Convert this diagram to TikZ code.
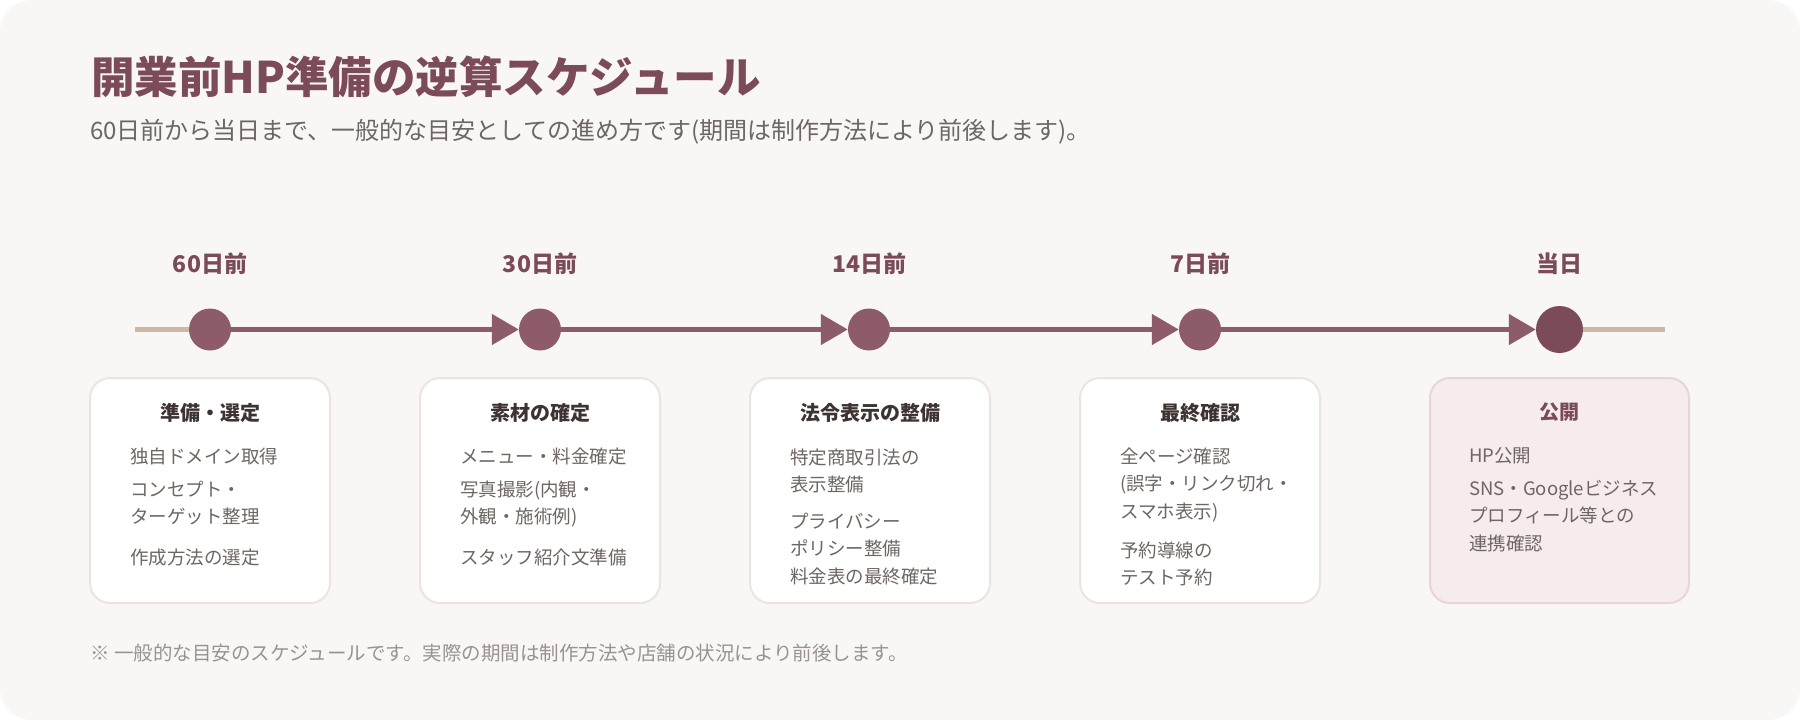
\documentclass[tikz,border=0pt]{standalone}
\usepackage{fontspec}
\setmainfont{Noto Sans CJK JP}
\usepackage{tikz}
\usetikzlibrary{arrows.meta}
\definecolor{mauve}{HTML}{8E5C68}
\definecolor{plum}{HTML}{7B4B59}
\definecolor{sand}{HTML}{CDB8A4}
\definecolor{paper}{HTML}{F8F7F5}
\definecolor{cardline}{HTML}{ECE4DE}
\definecolor{pinkfill}{HTML}{F6ECEE}
\definecolor{pinkline}{HTML}{E8D4D9}
\definecolor{ink}{HTML}{3D3431}
\definecolor{grayA}{HTML}{6E6662}
\definecolor{grayB}{HTML}{9B928E}

\begin{document}
\begin{tikzpicture}
[every node/.style={inner sep=0pt},
 dot/.style={circle, minimum size=42pt, fill=mauve},
 day/.style={font=\fontsize{23pt}{23pt}\selectfont\bfseries, text=plum},
 card/.style={rectangle, rounded corners=20pt, minimum width=240pt, minimum height=225pt, fill=white, draw=cardline, line width=2pt},
 cardhead/.style={font=\fontsize{20pt}{20pt}\selectfont\bfseries, text=ink},
 item/.style={anchor=base west, align=left, font=\fontsize{18.5pt}{27.5pt}\selectfont, text=grayA},
 seg/.style={line width=5pt, draw=mauve, -{Triangle[length=27pt, width=30pt]}},
 lead/.style={line width=5pt, draw=sand}]
\useasboundingbox (0pt, 0pt) rectangle (1800pt, -720pt);
\fill [white] (0pt, 0pt) rectangle (1800pt, -720pt);
\fill [paper, rounded corners=32pt] (0pt, 0pt) rectangle (1800pt, -720pt);
\node (title) [anchor=west, font=\fontsize{43.5pt}{43.5pt}\selectfont\bfseries, text=plum] at (91pt, -77pt) {開業前HP準備の逆算スケジュール};
\node (sub) [anchor=west, font=\fontsize{24pt}{24pt}\selectfont, text=grayA] at (90pt, -132pt) {60日前から当日まで、一般的な目安としての進め方です(期間は制作方法により前後します)。};
\node (1) [dot] at (210pt, -329.5pt) {};
\node (2) [dot] at (540pt, -329.5pt) {};
\node (3) [dot] at (869pt, -329.5pt) {};
\node (4) [dot] at (1200pt, -329.5pt) {};
\node (5) [dot, minimum size=47pt, fill=plum] at (1559.5pt, -329.5pt) {};
\coordinate (s) at (135pt, -329.5pt);
\coordinate (e) at (1665pt, -329.5pt);
\draw [lead] (s) to (1);
\draw [lead] (5) to (e);
\draw [seg] (1) to (2);
\draw [seg] (2) to (3);
\draw [seg] (3) to (4);
\draw [seg] (4) to (5);
\node (d1) [day] at (210pt, -264pt) {60日前};
\node (d2) [day] at (540pt, -264pt) {30日前};
\node (d3) [day] at (869pt, -264pt) {14日前};
\node (d4) [day] at (1200pt, -264pt) {7日前};
\node (d5) [day] at (1559.5pt, -264pt) {当日};
\node (c1) [card] at (210pt, -490.5pt) {};
\node (c2) [card] at (540pt, -490.5pt) {};
\node (c3) [card] at (870pt, -490.5pt) {};
\node (c4) [card] at (1200pt, -490.5pt) {};
\node (c5) [card, minimum width=259pt, fill=pinkfill, draw=pinkline] at (1559.5pt, -490.5pt) {};
\node (h1) [cardhead] at (210pt, -412.5pt) {準備・選定};
\node (h2) [cardhead] at (540pt, -412.5pt) {素材の確定};
\node (h3) [cardhead] at (870pt, -412.5pt) {法令表示の整備};
\node (h4) [cardhead] at (1200pt, -412.5pt) {最終確認};
\node (h5) [cardhead, text=plum] at (1559.5pt, -412.5pt) {公開};
% 60日前 (multi-line items sit on their last baseline)
\node (i11) [item] at (130pt, -463pt) {独自ドメイン取得};
\node (i12) [item] at (130pt, -523.5pt) {コンセプト・\\ターゲット整理};
\node (i13) [item] at (130pt, -564pt) {作成方法の選定};
% 30日前
\node (i21) [item] at (460pt, -463pt) {メニュー・料金確定};
\node (i22) [item] at (460pt, -523.5pt) {写真撮影(内観・\\外観・施術例)};
\node (i23) [item] at (460pt, -564pt) {スタッフ紹介文準備};
% 14日前
\node (i31) [item] at (790pt, -491.5pt) {特定商取引法の\\表示整備};
\node (i32) [item] at (790pt, -555.5pt) {プライバシー\\ポリシー整備};
\node (i33) [item] at (790pt, -583pt) {料金表の最終確定};
% 7日前
\node (i41) [item] at (1120pt, -518pt) {全ページ確認\\(誤字・リンク切れ・\\スマホ表示)};
\node (i42) [item] at (1120pt, -584.5pt) {予約導線の\\テスト予約};
% 当日
\node (i51) [item] at (1469pt, -462pt) {HP公開};
\node (i52) [item] at (1469pt, -550pt) {SNS・Googleビジネス\\プロフィール等との\\連携確認};
\node (note) [anchor=west, font=\fontsize{19.5pt}{19.5pt}\selectfont, text=grayB] at (90pt, -653pt) {※ 一般的な目安のスケジュールです。実際の期間は制作方法や店舗の状況により前後します。};
\end{tikzpicture}
\end{document}
